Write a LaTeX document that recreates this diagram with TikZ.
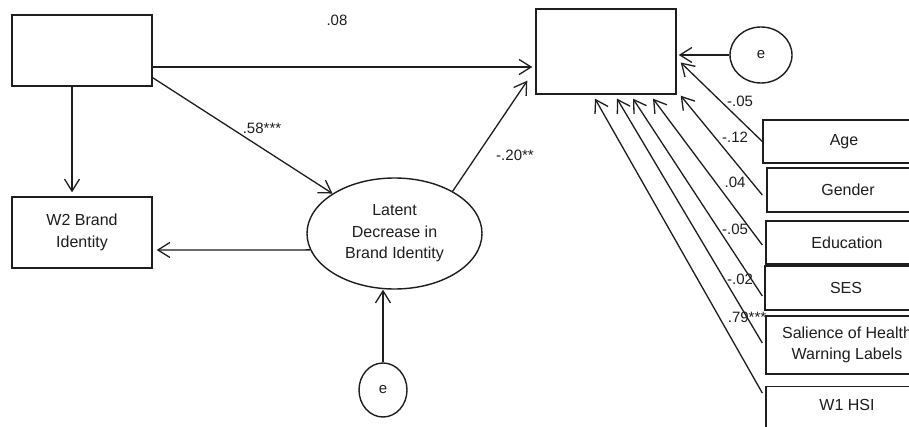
\documentclass[tikz,border=0pt]{standalone}
\usepackage{fontspec}
\setmainfont{Liberation Sans}
\usetikzlibrary{arrows.meta,calc,shapes.geometric}
\definecolor{ink}{HTML}{1E1E1E}
\begin{document}
\begin{tikzpicture}[x=1pt,y=-1pt,
  every node/.style={font=\fontsize{16}{21.5}\selectfont, text=ink},
  box/.style={draw=ink, line width=1.4pt, rectangle, inner sep=0pt, align=center},
  rbox/.style={box, minimum width=162pt},
  oval/.style={draw=ink, line width=1.4pt, ellipse, inner sep=0pt, align=center},
  lab/.style={font=\fontsize{15}{18}\selectfont, inner sep=0pt},
  arr/.style={draw=ink, line width=1.3pt, -{Straight Barb[length=12pt,width=15pt,line width=1.3pt]}}
]
\useasboundingbox (0,0) rectangle (909,427);
\clip (0,0) rectangle (909,427);
\fill[white] (0,0) rectangle (909,427);

% nodes
\node[box, minimum width=140pt, minimum height=71pt] (tl) at (82,50.5) {};
\node[box, minimum width=140pt, minimum height=71pt] (w2) at (82,232.5) {W2 Brand\\Identity};
\node[box, minimum width=140pt, minimum height=85pt] (c) at (606,51.5) {};
\node[oval, minimum width=175pt, minimum height=111pt] (lat) at (394.5,233.5) {Latent\\Decrease in\\Brand Identity};
\node[oval, minimum width=62pt, minimum height=56pt, font=\fontsize{15}{18}\selectfont] (e1) at (761,55) {e};
\node[oval, minimum width=48pt, minimum height=54pt, font=\fontsize{15}{18}\selectfont] (e2) at (383,390) {e};

\node[rbox, minimum height=43pt] (age) at (844,141.5) {Age};
\node[rbox, minimum height=44pt] (gen) at (848,190) {Gender};
\node[rbox, minimum height=43pt] (edu) at (847,242.5) {Education};
\node[rbox, minimum height=44pt] (ses) at (846,288) {SES};
\node[rbox, minimum height=58pt] (sal) at (847,345) {Salience of Health\\Warning Labels};
\node[rbox, anchor=north, text height=24pt, text depth=30pt] (hsi) at (847,386) {W1 HSI};

% connectors
\draw[arr] ($(tl.south)+(-10,0)$) -- ($(w2.north)+(-10,-4)$);
\draw[arr] ($(tl.east)+(0,16.5)$) -- ($(c.west)+(-3,15.5)$);
\draw[arr] ($(tl.south east)+(0,-9)$) -- (lat);
\draw[arr] (lat.36.5) -- ($(c.south west)+(-8,-14)$);
\draw[arr] (lat.191.5) -- ($(w2.east)+(4,17.5)$);
\draw[arr] (e2.north) -- (e2.north |- lat.south);
\draw[arr] (e1.west) -- ($(e1.west -| c.east)+(2,0)$);
\draw[arr] (age.west) -- ($(c.east)+(4,11)$);
\draw[arr] ($(gen.west)+(-4,5)$) -- ($(c.south east)+(4,1)$);
\draw[arr] ($(edu.west)+(-3,2.5)$) -- ($(c.south)+(47,4)$);
\draw[arr] ($(ses.west)+(-2,8)$) -- ($(c.south)+(27,4)$);
\draw[arr] ($(sal.west)+(-3,-2)$) -- ($(c.south)+(11,4)$);
\draw[arr] ($(hsi.north west)+(-3,7)$) -- ($(c.south)+(-11,4)$);

% labels
\node[lab] (l1) at (337,20) {.08};
\node[lab] (l2) at (262,128) {.58***};
\node[lab] (l3) at (515,155) {-.20**};
\node[lab] (l4) at (740,101) {-.05};
\node[lab] (l5) at (735,137) {-.12};
\node[lab] (l6) at (735,182) {.04};
\node[lab] (l7) at (735,229) {-.05};
\node[lab] (l8) at (740,279) {-.02};
\node[lab] (l9) at (747,317) {.79***};
\end{tikzpicture}
\end{document}
